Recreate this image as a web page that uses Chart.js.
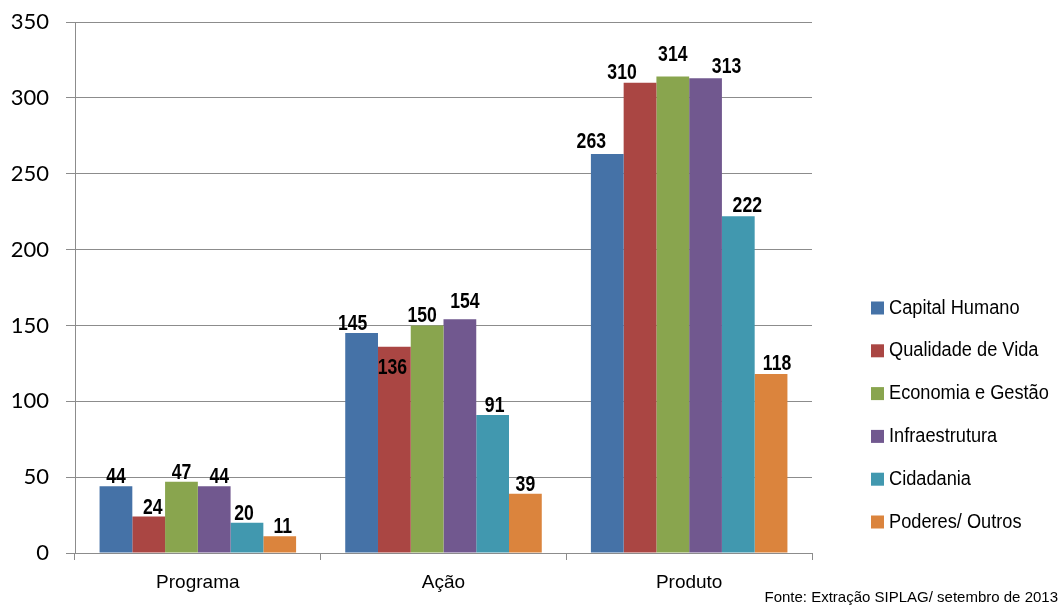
<!DOCTYPE html>
<html>
<head>
<meta charset="utf-8">
<title>Programa / Ação / Produto</title>
<script src="https://cdn.jsdelivr.net/npm/chart.js@4/dist/chart.umd.min.js"></script>
<style>
  html, body { margin: 0; padding: 0; background: #fff; }
  #chart { display: block; }
</style>
</head>
<body>
<canvas id="chart" width="1062" height="608"></canvas>
<script>
// Categories and series values
const categories = ['Programa', 'Ação', 'Produto'];
const seriesNames = ['Capital Humano', 'Qualidade de Vida', 'Economia e Gestão', 'Infraestrutura', 'Cidadania', 'Poderes/ Outros'];
const capitalHumano = [44, 145, 263];
const qualidadeVida = [24, 136, 310];
const economiaGestao = [47, 150, 314];
const infraestrutura = [44, 154, 313];
const cidadania = [20, 91, 222];
const poderesOutros = [11, 39, 118];
const yTicks = [0, 50, 100, 150, 200, 250, 300, 350];

const seriesValues = [capitalHumano, qualidadeVida, economiaGestao, infraestrutura, cidadania, poderesOutros];
const colors = ['#4572A7', '#AA4643', '#89A54E', '#71588F', '#4198AF', '#DB843D'];

const sans = '"Liberation Sans", Arial, sans-serif';
const gridColor = '#8c8c8c';

// Excel nudged some value labels so they don't collide: 'dataset,category' -> [dx, dy]
// (dy is the gap between the text baseline and the bar top; positive = inside the bar)
const labelNudge = {
  '0,1': [-9, -3], '1,1': [-2, 27], '2,1': [-5, -3], '3,1': [5, -11],
  '1,0': [4, -3], '3,0': [5, -3], '4,0': [-3, -3], '5,0': [3, -3],
  '0,2': [-16, -6], '1,2': [-18, -4], '3,2': [21, -5], '2,2': [0, -16],
  '4,2': [9, -4], '5,2': [6, -4], '4,1': [2, -3]
};

// draw text squeezed horizontally, to look like Arial Narrow
function narrowText(ctx, text, x, y, squeeze) {
  ctx.save();
  ctx.translate(x, y);
  ctx.scale(squeeze, 1);
  ctx.fillText(text, 0, 0);
  ctx.restore();
}

// value labels, legend and source note
const extrasPlugin = {
  id: 'extras',
  afterDatasetsDraw(chart) {
    const ctx = chart.ctx;
    ctx.save();
    ctx.font = 'bold 22px ' + sans;
    ctx.fillStyle = '#000';
    ctx.textAlign = 'center';
    ctx.textBaseline = 'alphabetic';
    chart.data.datasets.forEach((ds, i) => {
      const meta = chart.getDatasetMeta(i);
      meta.data.forEach((bar, j) => {
        const nudge = labelNudge[i + ',' + j] || [0, -3];
        narrowText(ctx, ds.data[j], bar.x + nudge[0], bar.y + nudge[1], 0.8);
      });
    });

    // legend on the right
    ctx.font = '20px ' + sans;
    ctx.textAlign = 'left';
    ctx.textBaseline = 'middle';
    chart.data.datasets.forEach((ds, i) => {
      const y = 308 + i * 42.8;
      ctx.fillStyle = ds.backgroundColor;
      ctx.fillRect(871, y - 6.5, 13, 13);
      ctx.fillStyle = '#000';
      narrowText(ctx, ds.label, 889, y, 0.91);
    });

    // source
    ctx.font = '15px ' + sans;
    ctx.textAlign = 'right';
    ctx.textBaseline = 'middle';
    ctx.fillText('Fonte: Extração SIPLAG/ setembro de 2013', 1058, 598);
    ctx.restore();
  }
};

const ctx = document.getElementById('chart').getContext('2d');
new Chart(ctx, {
  type: 'bar',
  data: {
    labels: categories,
    datasets: seriesNames.map((name, i) => ({
      label: name,
      data: seriesValues[i],
      backgroundColor: colors[i],
      borderWidth: 0,
      categoryPercentage: 0.8,
      barPercentage: 1.0
    }))
  },
  options: {
    responsive: false,
    animation: false,
    layout: { padding: { left: 0, top: 22, right: 250, bottom: 0 } },
    plugins: {
      legend: { display: false },
      tooltip: { enabled: false }
    },
    scales: {
      x: {
        grid: {
          offset: true,
          drawOnChartArea: false,
          color: gridColor,
          tickLength: 7
        },
        border: { color: gridColor },
        ticks: {
          color: '#000',
          font: { family: sans, size: 19 },
          padding: 11
        },
        afterFit(scale) { scale.height = 55; scale.paddingLeft = 0; scale.paddingRight = 0; }
      },
      y: {
        min: 0,
        max: 350,
        afterBuildTicks(scale) { scale.ticks = yTicks.map(v => ({ value: v })); },
        grid: { color: gridColor, tickLength: 9 },
        border: { color: gridColor },
        ticks: {
          color: '#000',
          font: { family: 'Lato, "Open Sans", sans-serif', size: 22 },
          padding: 17
        },
        afterFit(scale) { scale.width = 75; scale.paddingTop = 0; scale.paddingBottom = 0; }
      }
    }
  },
  plugins: [extrasPlugin]
});
</script>
</body>
</html>
